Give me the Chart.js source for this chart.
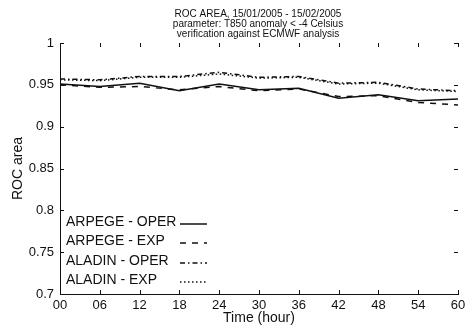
<!DOCTYPE html>
<html>
<head>
<meta charset="utf-8">
<script src="https://cdn.jsdelivr.net/npm/chart.js@4.4.1/dist/chart.umd.min.js"></script>
<style>
  html, body { margin: 0; padding: 0; background: #fff; }
  #wrap { width: 471px; height: 325px; }
</style>
</head>
<body>
<div id="wrap"><canvas id="roc" width="471" height="325"></canvas></div>
<script>
// ROC area chart - ARPEGE / ALADIN

const hours = [0, 6, 12, 18, 24, 30, 36, 42, 48, 54, 60];
const arpegeOper = [0.951, 0.948, 0.952, 0.943, 0.951, 0.944, 0.946, 0.934, 0.938, 0.931, 0.933];
const arpegeExp  = [0.950, 0.947, 0.948, 0.944, 0.948, 0.943, 0.945, 0.936, 0.937, 0.929, 0.926];
const aladinOper = [0.957, 0.956, 0.960, 0.960, 0.965, 0.959, 0.960, 0.952, 0.953, 0.945, 0.943];
const aladinExp  = [0.956, 0.955, 0.959, 0.959, 0.963, 0.958, 0.959, 0.951, 0.952, 0.944, 0.942];
const titleLines = [
    'ROC AREA, 15/01/2005 - 15/02/2005',
    'parameter: T850 anomaly < -4 Celsius',
    'verification against ECMWF analysis'
];

const FONT = "'Liberation Sans', Arial, sans-serif";
const INK = '#111';

function pts(vals) {
    return hours.map((h, i) => ({ x: h, y: vals[i] }));
}

function ds(label, vals, dash) {
    return {
        label,
        data: pts(vals),
        borderColor: INK,
        borderWidth: 1.5,
        borderDash: dash,
        pointRadius: 0,
        tension: 0,
        fill: false
    };
}

// titre + legende + petits ticks vers l'interieur (style matlab)
const extras = {
    id: 'extras',
    afterDraw(chart) {
        const c = chart.ctx;
        const a = chart.chartArea;
        c.save();
        c.fillStyle = INK;
        c.strokeStyle = INK;

        // titre
        c.font = '10px ' + FONT;
        c.textAlign = 'center';
        c.textBaseline = 'middle';
        const tx = 258;
        titleLines.forEach((t, i) => c.fillText(t, tx, 14 + i * 10));

        // ticks interieurs
        c.lineWidth = 1;
        const xs = chart.scales.x, ys = chart.scales.y;
        xs.ticks.forEach(t => {
            const px = Math.round(xs.getPixelForValue(t.value)) + 0.5;
            c.beginPath();
            c.moveTo(px, a.bottom); c.lineTo(px, a.bottom - 4);
            c.moveTo(px, a.top); c.lineTo(px, a.top + 4);
            c.stroke();
        });
        ys.ticks.forEach(t => {
            const py = Math.round(ys.getPixelForValue(t.value)) + 0.5;
            c.beginPath();
            c.moveTo(a.left, py); c.lineTo(a.left + 4, py);
            c.moveTo(a.right, py); c.lineTo(a.right - 4, py);
            c.stroke();
        });

        // legende
        c.font = '14px ' + FONT;
        c.textAlign = 'left';
        const rowsY = [222, 241, 261, 280];
        chart.data.datasets.forEach((d, i) => {
            const y = rowsY[i];
            c.fillText(d.label, a.left + 6, y);
            c.beginPath();
            c.lineWidth = 1.5;
            c.setLineDash(d.borderDash || []);
            c.moveTo(180, y + 2);
            c.lineTo(207, y + 2);
            c.stroke();
            c.setLineDash([]);
        });
        c.restore();
    }
};

new Chart(document.getElementById('roc'), {
    type: 'line',
    data: {
        datasets: [
            ds('ARPEGE - OPER', arpegeOper, []),
            ds('ARPEGE - EXP', arpegeExp, [6, 6]),
            ds('ALADIN - OPER', aladinOper, [5, 3, 1.5, 3]),
            ds('ALADIN - EXP', aladinExp, [1.5, 2.5])
        ]
    },
    options: {
        responsive: false,
        animation: false,
        layout: { padding: { top: 43, right: 13, left: 0, bottom: 0 } },
        plugins: {
            legend: { display: false },
            title: { display: false },
            tooltip: { enabled: false }
        },
        scales: {
            x: {
                type: 'linear',
                min: 0,
                max: 60,
                afterFit: s => { s.height = 31; },
                grid: { display: false, drawTicks: false },
                border: { display: true, color: INK, width: 1 },
                ticks: {
                    stepSize: 6,
                    padding: 4,
                    color: INK,
                    font: { family: FONT, size: 13 },
                    maxRotation: 0,
                    callback: v => String(v).padStart(2, '0')
                },
                title: {
                    display: true,
                    text: 'Time (hour)',
                    color: INK,
                    font: { family: FONT, size: 14, lineHeight: 1 },
                    padding: { top: 0, bottom: 0 }
                }
            },
            y: {
                min: 0.7,
                max: 1,
                afterFit: s => { s.width = 60; },
                grid: { display: false, drawTicks: false },
                border: { display: true, color: INK, width: 1 },
                ticks: {
                    stepSize: 0.05,
                    padding: 6,
                    color: INK,
                    font: { family: FONT, size: 13 },
                    callback: v => String(Number(v.toFixed(2)))
                },
                title: {
                    display: true,
                    text: 'ROC area',
                    color: INK,
                    font: { family: FONT, size: 14, lineHeight: 1 },
                    padding: { top: 11, bottom: 0 }
                }
            }
        }
    },
    plugins: [extras]
});
</script>
</body>
</html>
